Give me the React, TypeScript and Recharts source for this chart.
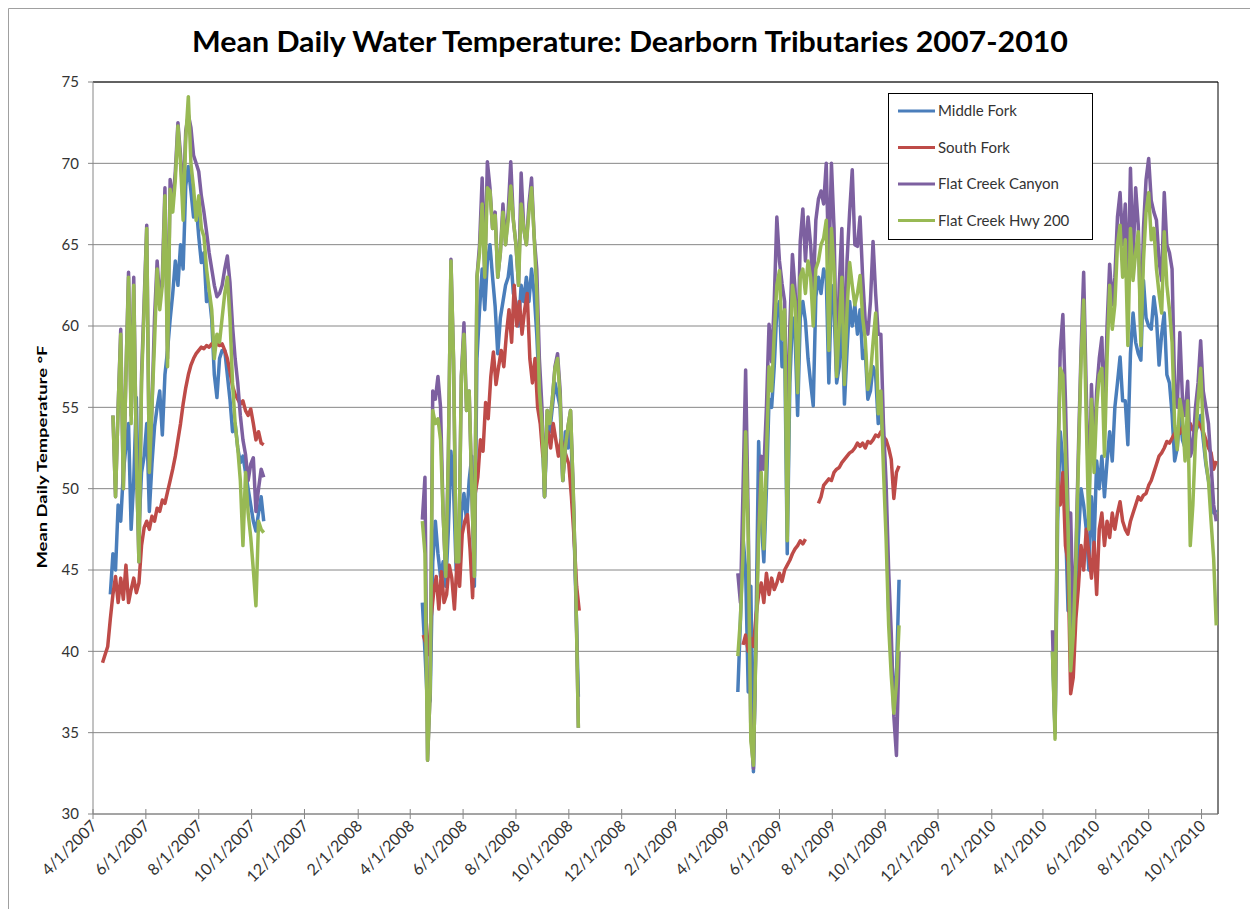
import React from 'react'
import { CartesianGrid, Line, LineChart, ReferenceLine, XAxis, YAxis } from 'recharts'

const WIDTH = 1250
const HEIGHT = 909
const STEP_DAYS = 3
const BASE = Date.UTC(2007, 3, 1)
const FONT = "Lato, 'Open Sans', sans-serif"

const COLORS = {
  middleFork: '#4A7EBB',
  southFork: '#BE4B48',
  canyon: '#7D60A0',
  hwy200: '#98B954',
}

const tickLabels = [
  '4/1/2007', '6/1/2007', '8/1/2007', '10/1/2007', '12/1/2007', '2/1/2008',
  '4/1/2008', '6/1/2008', '8/1/2008', '10/1/2008', '12/1/2008', '2/1/2009',
  '4/1/2009', '6/1/2009', '8/1/2009', '10/1/2009', '12/1/2009', '2/1/2010',
  '4/1/2010', '6/1/2010', '8/1/2010', '10/1/2010',
]
const yTicks = [30, 35, 40, 45, 50, 55, 60, 65, 70, 75]
const X_END = '10/20/2010'

// first reading of each season (one value every 3 days from there)
const middleForkStarts = ['4/21/2007', '4/15/2008', '4/14/2009', '4/12/2010']
const southForkStarts = ['4/12/2007', '4/16/2008', '4/20/2009', '7/16/2009', '4/18/2010']
const canyonStarts = ['4/24/2007', '4/15/2008', '4/14/2009', '4/12/2010']
const hwy200Starts = ['4/24/2007', '4/15/2008', '4/14/2009', '4/12/2010']

const middleFork2007 = [43.5, 46.0, 45.0, 49.0, 48.0, 51.0, 52.6, 54.0, 47.5, 50.5, 55.6, 47.6, 51.0, 52.0, 54.0, 48.6, 51.5, 53.8, 55.0, 56.0, 53.3, 57.0, 58.5, 60.4, 62.0, 64.0, 62.5, 65.0, 63.5, 68.6, 69.8, 68.3, 66.7, 67.5, 65.5, 63.9, 64.5, 61.5, 62.0, 60.4, 57.0, 55.6, 58.0, 58.5, 58.5, 57.0, 55.5, 53.5, 54.0, 52.5, 51.6, 52.0, 51.0, 50.0, 49.0, 48.0, 47.4, 48.5, 49.5, 48.0]
const middleFork2008 = [43.0, 40.0, 36.5, 37.0, 45.5, 48.0, 46.0, 44.6, 45.5, 44.0, 47.5, 52.3, 50.0, 45.0, 44.5, 48.5, 49.7, 48.0, 50.5, 52.0, 44.0, 58.0, 61.0, 63.5, 61.0, 64.0, 65.0, 63.0, 61.2, 58.3, 60.5, 61.5, 62.5, 63.0, 64.3, 62.0, 61.5, 60.0, 62.5, 61.5, 63.0, 61.5, 63.5, 62.0, 59.5, 56.0, 54.0, 49.5, 54.0, 53.5, 55.0, 56.5, 55.8, 55.0, 50.5, 53.5, 52.5, 54.0, 49.5, 43.5, 37.2]
const middleFork2009 = [37.5, 41.9, 47.0, 45.0, 37.5, 44.0, 32.6, 41.5, 52.9, 48.0, 45.5, 50.0, 55.5, 55.0, 57.5, 61.0, 61.5, 57.5, 59.0, 46.0, 56.5, 60.5, 59.5, 54.5, 60.5, 61.5, 60.3, 58.0, 56.5, 55.1, 61.8, 63.0, 62.0, 63.5, 63.0, 56.5, 62.5, 61.0, 56.5, 57.5, 61.0, 55.2, 58.5, 61.5, 60.0, 61.3, 59.5, 61.0, 58.0, 58.5, 55.5, 56.0, 57.5, 57.0, 54.0, 55.0, 52.5, 49.0, 42.5, 40.0, 37.5, 38.5, 44.4]
const middleFork2010 = [40.0, 35.0, 48.0, 53.5, 51.7, 48.0, 42.5, 43.5, 40.0, 43.5, 47.0, 50.0, 49.0, 47.5, 45.0, 49.5, 46.5, 51.7, 50.0, 52.0, 49.5, 51.7, 53.5, 51.7, 55.0, 56.5, 58.1, 55.4, 55.4, 52.7, 58.3, 60.8, 59.0, 58.3, 57.9, 62.8, 60.5, 60.0, 59.8, 61.8, 60.5, 57.6, 59.5, 60.8, 57.0, 56.5, 54.6, 51.7, 52.5, 54.5, 53.0, 52.5, 53.5, 53.0, 52.5, 53.5, 53.9, 54.5, 53.0, 51.5, 50.5, 49.5, 48.5, 48.7]

const southFork2007 = [39.3, 39.8, 40.3, 42.0, 43.5, 44.6, 43.0, 44.5, 43.2, 45.3, 43.0, 43.8, 44.5, 43.6, 44.2, 46.5, 47.6, 48.0, 47.5, 48.3, 48.0, 48.8, 48.6, 49.3, 49.1, 49.8, 50.5, 51.2, 52.0, 53.0, 54.0, 55.2, 56.2, 57.0, 57.6, 58.0, 58.3, 58.5, 58.7, 58.6, 58.8, 58.7, 58.9, 58.8, 58.9, 58.8, 58.9, 58.5, 58.0, 57.2, 56.3, 55.8, 55.5, 55.2, 55.4, 54.8, 54.5, 54.9, 54.0, 53.0, 53.5, 52.8, 52.7]
const southFork2008 = [41.0, 40.5, 39.8, 42.0, 43.6, 44.6, 42.6, 44.9, 43.0, 43.5, 45.3, 44.5, 42.6, 45.5, 44.0, 47.2, 48.0, 48.4, 46.3, 43.3, 49.7, 50.7, 53.0, 52.3, 55.3, 54.3, 56.9, 58.4, 56.4, 57.5, 58.5, 57.5, 59.5, 61.0, 59.0, 62.5, 60.0, 61.5, 59.5, 61.0, 62.0, 58.0, 56.5, 58.0, 55.0, 54.0, 52.0, 52.5, 53.5, 52.5, 54.0, 53.0, 52.0, 53.0, 52.5, 52.0, 51.5, 49.5, 47.0, 44.0, 42.5]
const southFork2009a = [40.4, 41.0, 40.0, 40.8, 40.3, 42.2, 43.5, 44.2, 43.0, 44.8, 43.5, 44.5, 43.8, 44.2, 44.8, 44.3, 45.0, 45.3, 45.6, 46.0, 46.3, 46.5, 46.8, 46.6, 46.9]
const southFork2009b = [49.1, 49.5, 50.2, 50.4, 50.6, 50.5, 51.0, 51.2, 51.3, 51.6, 51.8, 52.0, 52.2, 52.3, 52.5, 52.8, 52.6, 52.8, 52.5, 52.9, 52.8, 53.0, 53.3, 53.2, 53.5, 53.2, 53.0, 52.5, 51.8, 49.4, 51.0, 51.4]
const southFork2010 = [50.5, 49.0, 51.0, 46.5, 45.5, 37.4, 38.4, 42.0, 44.0, 46.5, 45.0, 47.5, 46.0, 44.5, 46.7, 43.5, 47.5, 48.5, 46.5, 48.0, 47.0, 48.5, 47.5, 48.5, 49.2, 48.0, 47.5, 47.2, 48.0, 48.5, 49.0, 49.5, 49.3, 49.6, 49.7, 50.2, 50.5, 51.0, 51.5, 52.0, 52.2, 52.5, 52.9, 52.8, 53.1, 53.4, 53.6, 53.4, 53.8, 53.5, 53.8, 54.0, 53.6, 54.0, 54.1, 53.8, 53.5, 53.0, 52.5, 52.2, 51.2, 51.7]

const canyon2007 = [54.5, 49.5, 55.0, 59.8, 50.0, 57.0, 63.3, 54.5, 63.0, 52.0, 45.5, 57.0, 61.5, 66.2, 51.0, 55.0, 60.5, 64.0, 61.5, 63.0, 68.5, 58.0, 69.0, 67.5, 69.5, 72.5, 70.5, 67.5, 72.0, 73.0, 72.2, 70.5, 70.0, 69.5, 68.0, 67.0, 65.8, 64.5, 63.5, 62.5, 61.8, 62.0, 62.5, 63.5, 64.3, 62.7, 60.0, 58.0, 56.5, 54.5, 53.0, 52.1, 50.5, 51.5, 51.9, 48.6, 50.0, 51.2, 50.7]
const canyon2008 = [48.1, 50.7, 33.3, 37.5, 56.0, 55.5, 56.9, 55.0, 48.4, 44.6, 52.0, 64.1, 57.9, 45.5, 45.5, 56.9, 60.2, 54.8, 56.0, 50.0, 44.6, 63.0, 65.0, 69.1, 63.0, 70.1, 68.5, 66.0, 67.0, 63.0, 64.5, 67.5, 65.0, 67.0, 70.1, 66.5, 65.0, 62.5, 69.4, 66.0, 65.0, 67.5, 69.1, 65.5, 63.5, 58.0, 55.0, 49.5, 54.8, 54.0, 55.5, 57.5, 58.3, 56.0, 50.5, 52.5, 53.8, 54.8, 50.0, 44.0, 35.3]
const canyon2009 = [44.8, 43.0, 50.0, 57.3, 48.0, 35.0, 32.8, 41.0, 48.0, 52.0, 51.2, 55.0, 60.1, 57.8, 61.5, 66.7, 64.0, 62.6, 61.5, 53.0, 60.0, 64.4, 62.3, 58.0, 65.2, 67.2, 64.0, 66.7, 65.0, 62.0, 66.5, 67.8, 68.3, 67.5, 70.0, 63.4, 70.0, 66.0, 57.2, 62.5, 66.0, 57.2, 64.0, 67.0, 69.6, 65.0, 64.9, 66.7, 63.0, 60.3, 59.5, 61.5, 65.2, 62.0, 59.5, 59.5, 54.0, 50.4, 45.0, 41.1, 36.0, 33.6, 40.0]
const canyon2010 = [41.3, 35.0, 51.0, 58.5, 60.7, 55.4, 48.5, 48.5, 41.5, 46.0, 52.5, 58.5, 63.3, 56.0, 49.0, 56.4, 52.0, 56.0, 58.0, 59.3, 54.0, 60.0, 63.8, 61.3, 63.0, 66.7, 68.2, 65.0, 67.5, 62.0, 69.7, 64.0, 68.5, 66.2, 59.3, 66.0, 69.0, 70.3, 67.7, 67.0, 66.5, 64.0, 62.8, 68.2, 65.0, 64.5, 63.5, 56.0, 55.0, 59.6, 55.5, 54.5, 56.6, 52.0, 52.5, 55.0, 56.5, 59.1, 56.0, 55.0, 54.0, 51.5, 49.0, 48.0]

const hwy2002007 = [54.5, 49.5, 55.0, 59.5, 50.0, 57.0, 63.0, 54.0, 62.5, 52.0, 45.5, 56.5, 61.0, 66.0, 51.0, 55.0, 59.0, 63.5, 61.0, 62.5, 68.0, 57.5, 68.4, 67.0, 69.0, 72.3, 70.0, 66.5, 71.5, 74.1, 70.0, 68.5, 66.5, 68.0, 66.0, 65.5, 63.5, 62.2, 61.0, 58.0, 59.5, 59.0, 60.5, 62.0, 63.0, 60.5, 56.5, 54.0, 52.5, 50.5, 46.5, 51.0, 48.5, 47.0, 45.0, 42.8, 48.0, 47.5, 47.3]
const hwy2002008 = [48.0, 46.0, 33.3, 37.5, 54.8, 54.0, 54.3, 53.0, 48.4, 44.6, 52.0, 64.0, 57.9, 45.5, 45.5, 56.9, 59.5, 54.8, 56.0, 50.0, 44.6, 63.0, 64.5, 67.5, 63.0, 68.5, 68.3, 66.0, 66.8, 63.0, 64.5, 67.0, 65.0, 66.5, 68.6, 66.5, 65.0, 62.5, 67.5, 66.0, 65.0, 67.0, 68.5, 65.5, 62.0, 56.0, 54.0, 49.5, 54.8, 54.0, 55.5, 57.4, 58.0, 55.5, 50.5, 52.5, 53.8, 54.8, 50.0, 44.0, 35.3]
const hwy2002009 = [39.7, 42.0, 46.0, 53.5, 47.0, 34.5, 33.0, 40.6, 47.0, 51.0, 46.3, 52.0, 57.5, 56.0, 59.5, 62.5, 63.4, 59.2, 61.0, 46.8, 58.2, 62.5, 61.5, 55.9, 63.0, 63.5, 62.0, 64.0, 63.0, 60.0, 63.5, 64.0, 65.0, 65.4, 66.5, 58.5, 66.0, 63.5, 56.9, 60.0, 63.0, 56.4, 61.0, 63.9, 62.5, 61.3, 62.0, 63.1, 60.5, 59.2, 56.1, 57.0, 59.0, 60.8, 54.6, 56.0, 51.2, 47.0, 41.6, 38.5, 36.2, 38.0, 41.6]
const hwy2002010 = [40.0, 34.6, 50.4, 57.4, 57.0, 52.0, 47.5, 38.8, 41.0, 45.5, 51.7, 57.9, 61.6, 54.2, 47.5, 55.5, 51.0, 55.0, 57.0, 57.4, 52.0, 58.0, 62.5, 59.8, 61.3, 65.0, 66.2, 63.0, 65.3, 58.8, 66.0, 62.8, 64.5, 65.8, 58.8, 64.0, 67.0, 68.2, 65.3, 66.0, 63.5, 62.0, 60.8, 65.8, 62.5, 61.0, 59.0, 53.9, 52.4, 55.5, 54.5, 51.7, 55.4, 46.5, 49.0, 53.0, 55.4, 57.4, 53.5, 51.7, 50.5, 48.0, 45.7, 41.6]

function dayOf(mdy: string) {
  const [m, d, y] = mdy.split('/').map(Number)
  return Math.round((Date.UTC(y, m - 1, d) - BASE) / 86400000)
}

const tickDays = tickLabels.map(dayOf)
const X_MAX = dayOf(X_END)

function buildSeries(starts: string[], seasons: number[][]) {
  const points: { day: number; v: number | null }[] = []
  seasons.forEach((values, i) => {
    const d0 = dayOf(starts[i])
    if (i > 0) points.push({ day: d0 - 1, v: null })
    values.forEach((v, k) => points.push({ day: d0 + k * STEP_DAYS, v }))
  })
  return points
}

const SERIES = [
  { key: 'middleFork', name: 'Middle Fork', color: COLORS.middleFork, data: buildSeries(middleForkStarts, [middleFork2007, middleFork2008, middleFork2009, middleFork2010]) },
  { key: 'southFork', name: 'South Fork', color: COLORS.southFork, data: buildSeries(southForkStarts, [southFork2007, southFork2008, southFork2009a, southFork2009b, southFork2010]) },
  { key: 'canyon', name: 'Flat Creek Canyon', color: COLORS.canyon, data: buildSeries(canyonStarts, [canyon2007, canyon2008, canyon2009, canyon2010]) },
  { key: 'hwy200', name: 'Flat Creek Hwy 200', color: COLORS.hwy200, data: buildSeries(hwy200Starts, [hwy2002007, hwy2002008, hwy2002009, hwy2002010]) },
]

function DateTick(props: { x?: number; y?: number; payload?: { value: number } }) {
  const { x = 0, y = 0, payload } = props
  const idx = tickDays.indexOf(payload ? payload.value : -1)
  const label = idx >= 0 ? tickLabels[idx] : ''
  return (
    <g transform={`translate(${x},${y})`}>
      <line x1={0} y1={-5} x2={0} y2={5} stroke="#868686" />
      <text
        transform="translate(5,13) rotate(-45)"
        textAnchor="end"
        fontSize={16}
        fontFamily={FONT}
        fill="#333"
      >
        {label}
      </text>
    </g>
  )
}

export default function App() {
  return (
    <div style={{ position: 'absolute', left: 0, top: 0, width: WIDTH, height: HEIGHT, background: '#fff' }}>
      <LineChart width={WIDTH} height={HEIGHT} margin={{ top: 82, right: 32, left: 0, bottom: 0 }}>
        <CartesianGrid horizontal vertical={false} stroke="#868686" />
        <XAxis
          type="number"
          dataKey="day"
          domain={[0, X_MAX]}
          ticks={tickDays}
          interval={0}
          allowDataOverflow
          height={95}
          tickSize={0}
          tickMargin={0}
          tickLine={false}
          axisLine={{ stroke: '#868686' }}
          tick={<DateTick />}
        />
        <YAxis
          type="number"
          domain={[30, 75]}
          ticks={yTicks}
          interval={0}
          width={93}
          tickSize={5}
          tickMargin={9}
          axisLine={{ stroke: '#868686' }}
          tickLine={{ stroke: '#868686' }}
          tick={{ fontSize: 15, fill: '#333', fontFamily: FONT }}
        />
        <ReferenceLine y={75} stroke="#000" />
        <ReferenceLine x={X_MAX} stroke="#000" />
        {SERIES.map((s) => (
          <Line
            key={s.key}
            data={s.data}
            dataKey="v"
            name={s.name}
            type="linear"
            stroke={s.color}
            strokeWidth={3.5}
            strokeLinejoin="round"
            dot={false}
            activeDot={false}
            connectNulls={false}
            isAnimationActive={false}
          />
        ))}
      </LineChart>

      <svg
        width={WIDTH}
        height={HEIGHT}
        style={{ position: 'absolute', left: 0, top: 0, pointerEvents: 'none' }}
      >
        <path d="M8.5 909 V8.5 H1250" fill="none" stroke="#a0a0a0" />
        <text
          x={630}
          y={52}
          textAnchor="middle"
          fontSize={29}
          fontWeight="bold"
          fontFamily={FONT}
          fill="#000"
          textLength={876}
          lengthAdjust="spacingAndGlyphs"
        >
          Mean Daily Water Temperature: Dearborn Tributaries 2007-2010
        </text>
        <text
          transform="translate(47,457) rotate(-90)"
          textAnchor="middle"
          fontSize={14}
          fontWeight="bold"
          fontFamily={FONT}
          fill="#000"
          textLength={223}
          lengthAdjust="spacingAndGlyphs"
        >
          Mean Daily Temperature °F
        </text>
        <rect x={888.5} y={93.5} width={204} height={146} fill="#fff" stroke="#000" />
        {SERIES.map((s, i) => {
          const cy = 111 + i * 36.5
          return (
            <g key={s.key}>
              <line x1={898} x2={935} y1={cy} y2={cy} stroke={s.color} strokeWidth={3} />
              <text x={938} y={cy + 5} fontSize={15} fontFamily={FONT} fill="#333">
                {s.name}
              </text>
            </g>
          )
        })}
      </svg>
    </div>
  )
}
